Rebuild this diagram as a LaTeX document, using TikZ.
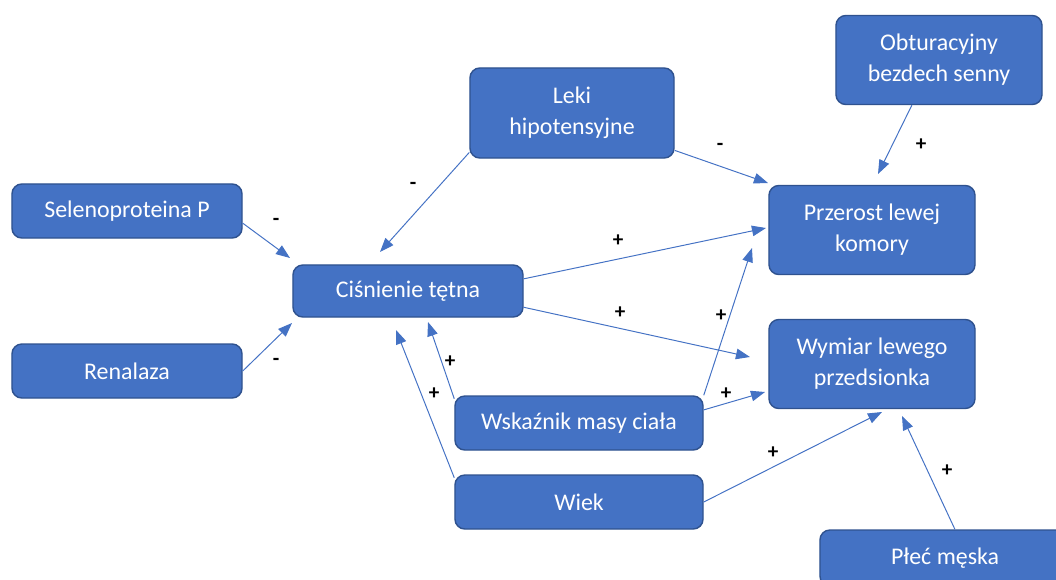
\documentclass[tikz,border=0pt]{standalone}
\usepackage{fontspec}
\setmainfont{Carlito}
\usetikzlibrary{arrows.meta}

\definecolor{niebieski}{HTML}{4472C4}
\definecolor{ramka}{HTML}{2F528F}

\begin{document}
\begin{tikzpicture}[x=0.025cm, y=-0.025cm, >={Triangle[length=10pt, width=7.5pt]},
    blok/.style={draw=ramka, fill=niebieski, line width=1pt, rounded corners=7pt,
        text=white, align=center, font=\fontsize{17}{22}\selectfont},
    pil/.style={->, color=niebieski, line width=0.7pt},
    znak/.style={font=\fontsize{15}{15}\selectfont\bfseries}]
    \clip (0,0) rectangle (1056,579);

    % Czynniki
    \node[blok, minimum width=5.15cm, minimum height=2.225cm] (obt) at (939,60) {Obturacyjny\\bezdech senny};
    \node[blok, minimum width=5.1cm, minimum height=2.25cm] (leki) at (572,113) {Leki\\hipotensyjne};
    \node[blok, minimum width=5.75cm, minimum height=1.35cm] (sel) at (127,211) {Selenoproteina P};
    \node[blok, minimum width=5.75cm, minimum height=1.35cm] (ren) at (127,371) {Renalaza};
    \node[blok, minimum width=5.75cm, minimum height=1.3cm] (cis) at (408,291) {Ciśnienie tętna};
    \node[blok, minimum width=6.2cm, minimum height=1.35cm] (wsk) at (579,423) {Wskaźnik masy ciała};
    \node[blok, minimum width=6.2cm, minimum height=1.35cm] (wiek) at (579,502) {Wiek};
    \node[blok, minimum width=6.25cm, minimum height=1.4cm] (plec) at (945,558) {Płeć męska};

    % Skutki
    \node[blok, minimum width=5.15cm, minimum height=2.225cm] (przerost) at (872,230) {Przerost lewej\\komory};
    \node[blok, minimum width=5.15cm, minimum height=2.225cm] (wymiar) at (872,364) {Wymiar lewego\\przedsionka};

    % Końce strzałek
    \coordinate (do-cis1) at (290,258);
    \coordinate (do-cis2) at (292,323);
    \coordinate (do-cis3) at (380,252);
    \coordinate (do-cis4) at (428,322);
    \coordinate (do-cis5) at (396,330);
    \coordinate (do-prz1) at (768,183);
    \coordinate (do-prz2) at (878,174);
    \coordinate (do-prz3) at (766,228);
    \coordinate (do-prz4) at (752,248);
    \coordinate (do-wym1) at (750,357);
    \coordinate (do-wym2) at (765,392);
    \coordinate (do-wym3) at (882,412);
    \coordinate (do-wym4) at (902,416);

    % Strzałki
    \draw[pil] (sel.-6) -- (do-cis1);
    \draw[pil] (ren.0) -- (do-cis2);
    \draw[pil] (leki.201) -- (do-cis3);
    \draw[pil] (wsk.169) -- (do-cis4);
    \draw[pil] (wiek.169) -- (do-cis5);
    \draw[pil] (leki.-20) -- (do-prz1);
    \draw[pil] (obt.-121) -- (do-prz2);
    \draw[pil] (cis.6) -- (do-prz3);
    \draw[pil] (wsk.north east) -- (do-prz4);
    \draw[pil] (cis.-8) -- (do-wym1);
    \draw[pil] (wsk.6) -- (do-wym2);
    \draw[pil] (wiek.east) -- (do-wym3);
    \draw[pil] (plec.71) -- (do-wym4);

    % Znaki
    \node[znak] (z1) at (276,222) {-};
    \node[znak] (z2) at (276,362) {-};
    \node[znak] (z3) at (413,186) {-};
    \node[znak] (z4) at (720,147) {-};
    \node[znak] (z5) at (921,145) {+};
    \node[znak] (z6) at (618,241) {+};
    \node[znak] (z7) at (620,313) {+};
    \node[znak] (z8) at (721,316) {+};
    \node[znak] (z9) at (726,394) {+};
    \node[znak] (z10) at (450,362) {+};
    \node[znak] (z11) at (434,394) {+};
    \node[znak] (z12) at (773,453) {+};
    \node[znak] (z13) at (947,471) {+};
\end{tikzpicture}
\end{document}
